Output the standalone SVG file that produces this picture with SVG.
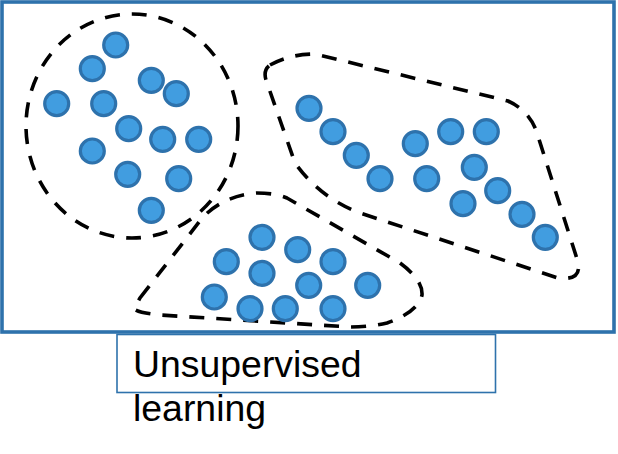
<svg xmlns="http://www.w3.org/2000/svg" width="618" height="454" viewBox="0 0 618 454">
<style>
.pt{fill:#419DE0;stroke:#2E72AC;stroke-width:3.2}
.cl{fill:none;stroke:#000;stroke-width:3.6;stroke-dasharray:15 12}
.lbl{font-family:"Liberation Sans",Arial,sans-serif;font-size:37.4px;fill:#000}
</style>
<rect width="618" height="454" fill="#fff"/>
<g id="frame"><rect x="2" y="2" width="612" height="330" fill="none" stroke="#2E72AC" stroke-width="3.6"/></g>
<g id="cluster1">
<ellipse class="cl" cx="132" cy="126" rx="106" ry="112"/>
<circle class="pt" cx="115.7" cy="45" r="12"/>
<circle class="pt" cx="92.3" cy="68.7" r="12"/>
<circle class="pt" cx="151.3" cy="80.3" r="12"/>
<circle class="pt" cx="176.3" cy="93.7" r="12"/>
<circle class="pt" cx="56.7" cy="103.7" r="12"/>
<circle class="pt" cx="103.7" cy="103.7" r="12"/>
<circle class="pt" cx="128.7" cy="128.7" r="12"/>
<circle class="pt" cx="162.7" cy="139.3" r="12"/>
<circle class="pt" cx="198.7" cy="139.3" r="12"/>
<circle class="pt" cx="92.3" cy="151" r="12"/>
<circle class="pt" cx="127.7" cy="174.3" r="12"/>
<circle class="pt" cx="178.7" cy="178.7" r="12"/>
<circle class="pt" cx="151.3" cy="210.3" r="12"/>
</g>
<g id="cluster2">
<path class="cl" d="M 270,65 Q 290,54 315,54 L 508,101 Q 530,111 537,133 L 578,262 Q 582,281 558,278 L 360,213 Q 320,198 295,163 L 266,80 Q 263,70 270,65 Z"/>
<circle class="pt" cx="309" cy="108.3" r="12"/>
<circle class="pt" cx="333" cy="131.7" r="12"/>
<circle class="pt" cx="356.3" cy="155.3" r="12"/>
<circle class="pt" cx="380" cy="178.7" r="12"/>
<circle class="pt" cx="415.3" cy="143.7" r="12"/>
<circle class="pt" cx="450.7" cy="131.7" r="12"/>
<circle class="pt" cx="486.3" cy="131.7" r="12"/>
<circle class="pt" cx="426.7" cy="178.7" r="12"/>
<circle class="pt" cx="474.3" cy="167.3" r="12"/>
<circle class="pt" cx="497.7" cy="190.7" r="12"/>
<circle class="pt" cx="463" cy="203.7" r="12"/>
<circle class="pt" cx="522" cy="214.3" r="12"/>
<circle class="pt" cx="545.3" cy="237.3" r="12"/>
</g>
<g id="cluster3">
<path class="cl" d="M 140,298 L 203,217 Q 225,195 257,193 Q 275,193 287,198 L 400,263 Q 423,280 422,295 Q 418,312 387,323 Q 370,327 350,327 L 160,315 Q 140,313 134,309 Z"/>
<circle class="pt" cx="262" cy="237.3" r="12"/>
<circle class="pt" cx="297.7" cy="249.7" r="12"/>
<circle class="pt" cx="226.3" cy="261.7" r="12"/>
<circle class="pt" cx="262" cy="273.3" r="12"/>
<circle class="pt" cx="333" cy="261.7" r="12"/>
<circle class="pt" cx="308.7" cy="285.3" r="12"/>
<circle class="pt" cx="367.7" cy="285.3" r="12"/>
<circle class="pt" cx="214.3" cy="297" r="12"/>
<circle class="pt" cx="250" cy="308.7" r="12"/>
<circle class="pt" cx="285.3" cy="308.7" r="12"/>
<circle class="pt" cx="333" cy="308.7" r="12"/>
</g>
<g id="label">
<rect x="117" y="334.5" width="378.5" height="58" fill="none" stroke="#2E72AC" stroke-width="1.6"/>
<text class="lbl" x="133" y="376.5">Unsupervised</text>
<text class="lbl" x="133" y="420.5">learning</text>
</g>
</svg>
